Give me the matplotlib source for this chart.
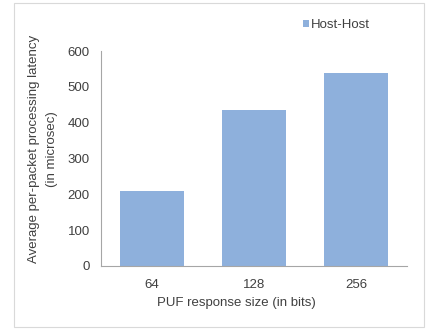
import matplotlib
matplotlib.use("Agg")
import matplotlib.pyplot as plt
from matplotlib.patches import Rectangle

categories = ["64", "128", "256"]
values = [208, 435, 540]
series_name = "Host-Host"
yticks = [0, 100, 200, 300, 400, 500, 600]

plt.rcParams['font.family'] = ['Liberation Sans', 'DejaVu Sans']
text_color = "#404040"
bar_color = "#8EB0DC"
axis_color = "#A6A6A6"
fs = 9.5

fig = plt.figure(figsize=(4.35, 3.29), dpi=100)
W, H = 435, 329
ax = fig.add_axes([101 / W, 1 - 266 / H, 306 / W, 215 / H])

x = list(range(len(categories)))
ax.bar(x, values, width=0.62, color=bar_color, label=series_name, zorder=2)
ax.set_xlim(-0.5, len(categories) - 0.5)
ax.set_ylim(0, 600)
ax.set_yticks(yticks)
ax.set_xticks(x)
ax.set_xticklabels(categories)

for s in ["top", "right"]:
    ax.spines[s].set_visible(False)
for s in ["left", "bottom"]:
    ax.spines[s].set_color(axis_color)
    ax.spines[s].set_linewidth(0.8)
ax.tick_params(axis="both", colors=text_color, labelsize=fs, length=0)
ax.tick_params(axis="y", pad=8)
ax.tick_params(axis="x", pad=9)

xl = ax.set_xlabel("PUF response size (in bits)", fontsize=fs, color=text_color)
xl.set_verticalalignment("center")
ax.xaxis.set_label_coords((236.5 - 101) / 306, (266 - 303) / 215)

yl = ax.set_ylabel("Average per-packet processing latency\n(in microsec)", fontsize=fs,
                   color=text_color, linespacing=1.6)
yl.set_verticalalignment("center")
ax.yaxis.set_label_coords((43 - 101) / 306, (266 - 149) / 215)

leg = ax.legend(loc="center left", bbox_to_anchor=(303 / W, 1 - 25 / H),
                bbox_transform=fig.transFigure, frameon=False, fontsize=fs,
                handlelength=0.45, handleheight=0.45, handletextpad=0.15,
                labelcolor=text_color, borderaxespad=0, borderpad=0)

fig.patches.append(Rectangle((14 / W, 2 / H), 410 / W, 324 / H, transform=fig.transFigure,
                             fill=False, edgecolor="#D9D9D9", linewidth=0.8))

fig.savefig("out.png", dpi=100)
